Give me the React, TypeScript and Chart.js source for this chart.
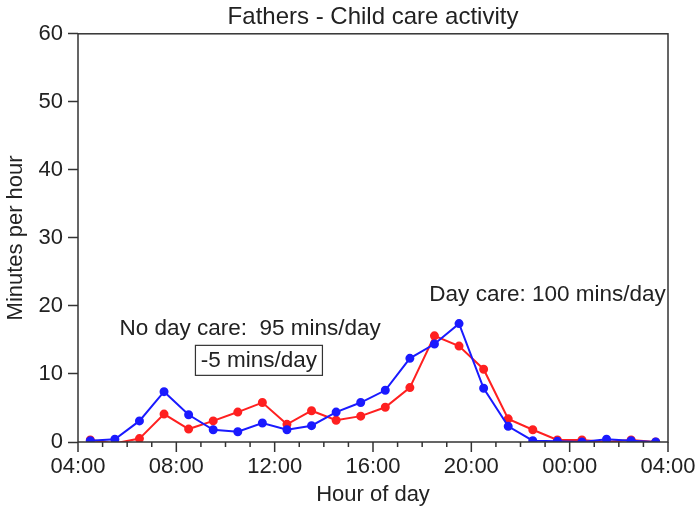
import { useEffect, useRef } from "react";
import { Chart, registerables, type Plugin } from "chart.js";

Chart.register(...registerables);

// half-hour slots, 04:30 .. 03:30 next day, as hours since midnight
const hours = [4.5, 5.5, 6.5, 7.5, 8.5, 9.5, 10.5, 11.5, 12.5, 13.5, 14.5, 15.5,
    16.5, 17.5, 18.5, 19.5, 20.5, 21.5, 22.5, 23.5, 24.5, 25.5, 26.5, 27.5];

const dayCare = [0.2, 0.4, 3.1, 7.4, 4.0, 1.8, 1.5, 2.8, 1.8, 2.4, 4.4, 5.8,
    7.6, 12.3, 14.4, 17.4, 7.9, 2.3, 0.2, 0.1, 0.0, 0.4, 0.2, 0.0];
const noDayCare = [0.3, -0.2, 0.5, 4.1, 1.9, 3.1, 4.4, 5.8, 2.6, 4.6, 3.2, 3.8,
    5.1, 8.0, 15.6, 14.1, 10.7, 3.4, 1.8, 0.3, 0.3, 0.0, 0.3, 0.0];

const xMajorTicks = [4, 8, 12, 16, 20, 24, 28];
const yTicks = [0, 10, 20, 30, 40, 50, 60];

const FONT = "'Liberation Sans', Arial, sans-serif";
const INK = "#222";

const fmtHour = (v: number) => String(v % 24).padStart(2, "0") + ":00";

const frame: Plugin<"line"> = {
    id: "frame",
    afterDraw(chart) {
        const { ctx, chartArea: a, scales } = chart;
        const x = scales.x;
        ctx.save();
        ctx.strokeStyle = "#333";
        ctx.lineWidth = 1.5;
        ctx.strokeRect(a.left, a.top, a.right - a.left, a.bottom - a.top);
        // hour ticks on the x axis, longer at the 4-hour marks
        ctx.beginPath();
        for (let h = 4; h <= 28; h++) {
            const px = x.getPixelForValue(h);
            const len = xMajorTicks.includes(h) ? 10 : 5;
            ctx.moveTo(px, a.bottom);
            ctx.lineTo(px, a.bottom + len);
        }
        ctx.stroke();

        // annotations
        const sx = (v: number) => x.getPixelForValue(v);
        const sy = (v: number) => scales.y.getPixelForValue(v);
        ctx.fillStyle = INK;
        ctx.font = `22.5px ${FONT}`;
        ctx.textAlign = "center";
        ctx.textBaseline = "middle";
        ctx.fillText("Day care: 100 mins/day", sx(23.1), sy(21.6));
        ctx.fillText("No day care:  95 mins/day", sx(11.0), sy(16.7));
        ctx.fillText("-5 mins/day", sx(11.36), sy(12.0));
        const bw = 127, bh = 30;
        ctx.lineWidth = 1.2;
        ctx.strokeRect(sx(11.36) - bw / 2, sy(12.0) - bh / 2, bw, bh);
        ctx.restore();
    },
};

export default function App() {
    const canvasRef = useRef<HTMLCanvasElement>(null);

    useEffect(() => {
        document.body.style.margin = "0";
        if (!canvasRef.current) return;

        const chart = new Chart(canvasRef.current, {
            type: "line",
            data: {
                datasets: [
                    {
                        label: "Day care",
                        data: hours.map((h, i) => ({ x: h, y: dayCare[i] })),
                        borderColor: "#1a1aff",
                        backgroundColor: "#1a1aff",
                        borderWidth: 2,
                        pointRadius: 3.5,
                        tension: 0,
                    },
                    {
                        label: "No day care",
                        data: hours.map((h, i) => ({ x: h, y: noDayCare[i] })),
                        borderColor: "#ff2020",
                        backgroundColor: "#ff2020",
                        borderWidth: 2,
                        pointRadius: 3.5,
                        tension: 0,
                    },
                ],
            },
            options: {
                animation: false,
                responsive: true,
                maintainAspectRatio: false,
                layout: { padding: { left: 0, right: 32, bottom: 0 } },
                plugins: {
                    legend: { display: false },
                    tooltip: { enabled: false },
                    title: {
                        display: true,
                        fullSize: false,
                        text: "Fathers - Child care activity",
                        color: INK,
                        font: { family: FONT, size: 24, weight: "normal" },
                        padding: { top: 3, bottom: 2 },
                    },
                },
                scales: {
                    x: {
                        type: "linear",
                        min: 4,
                        max: 28,
                        afterBuildTicks: (s) => { s.ticks = xMajorTicks.map(v => ({ value: v })); },
                        afterFit: (s) => { s.height = 69; s.paddingRight = 0; s.paddingLeft = 0; },
                        border: { display: false },
                        grid: { display: true, drawOnChartArea: false, drawTicks: false },
                        ticks: {
                            color: INK,
                            font: { family: FONT, size: 22 },
                            padding: 12,
                            maxRotation: 0,
                            autoSkip: false,
                            callback: (v) => fmtHour(Number(v)),
                        },
                        title: {
                            display: true,
                            text: "Hour of day",
                            color: INK,
                            font: { family: FONT, size: 22 },
                            padding: { top: 0, bottom: 3 },
                        },
                    },
                    y: {
                        min: 0,
                        max: 60,
                        afterBuildTicks: (s) => { s.ticks = yTicks.map(v => ({ value: v })); },
                        afterFit: (s) => { s.width = 78; },
                        border: { display: false },
                        grid: { drawOnChartArea: false, tickLength: 10, tickColor: "#333", tickWidth: 1.5 },
                        ticks: {
                            color: INK,
                            font: { family: FONT, size: 22 },
                            padding: 5,
                        },
                        title: {
                            display: true,
                            text: "Minutes per hour",
                            color: INK,
                            font: { family: FONT, size: 22 },
                            padding: { top: 3, bottom: 0 },
                        },
                    },
                },
            },
            plugins: [frame],
        });

        return () => { chart.destroy(); };
    }, []);

    return (
        <div style={{ width: 700, height: 511, position: "relative" }}>
            <canvas ref={canvasRef} />
        </div>
    );
}
